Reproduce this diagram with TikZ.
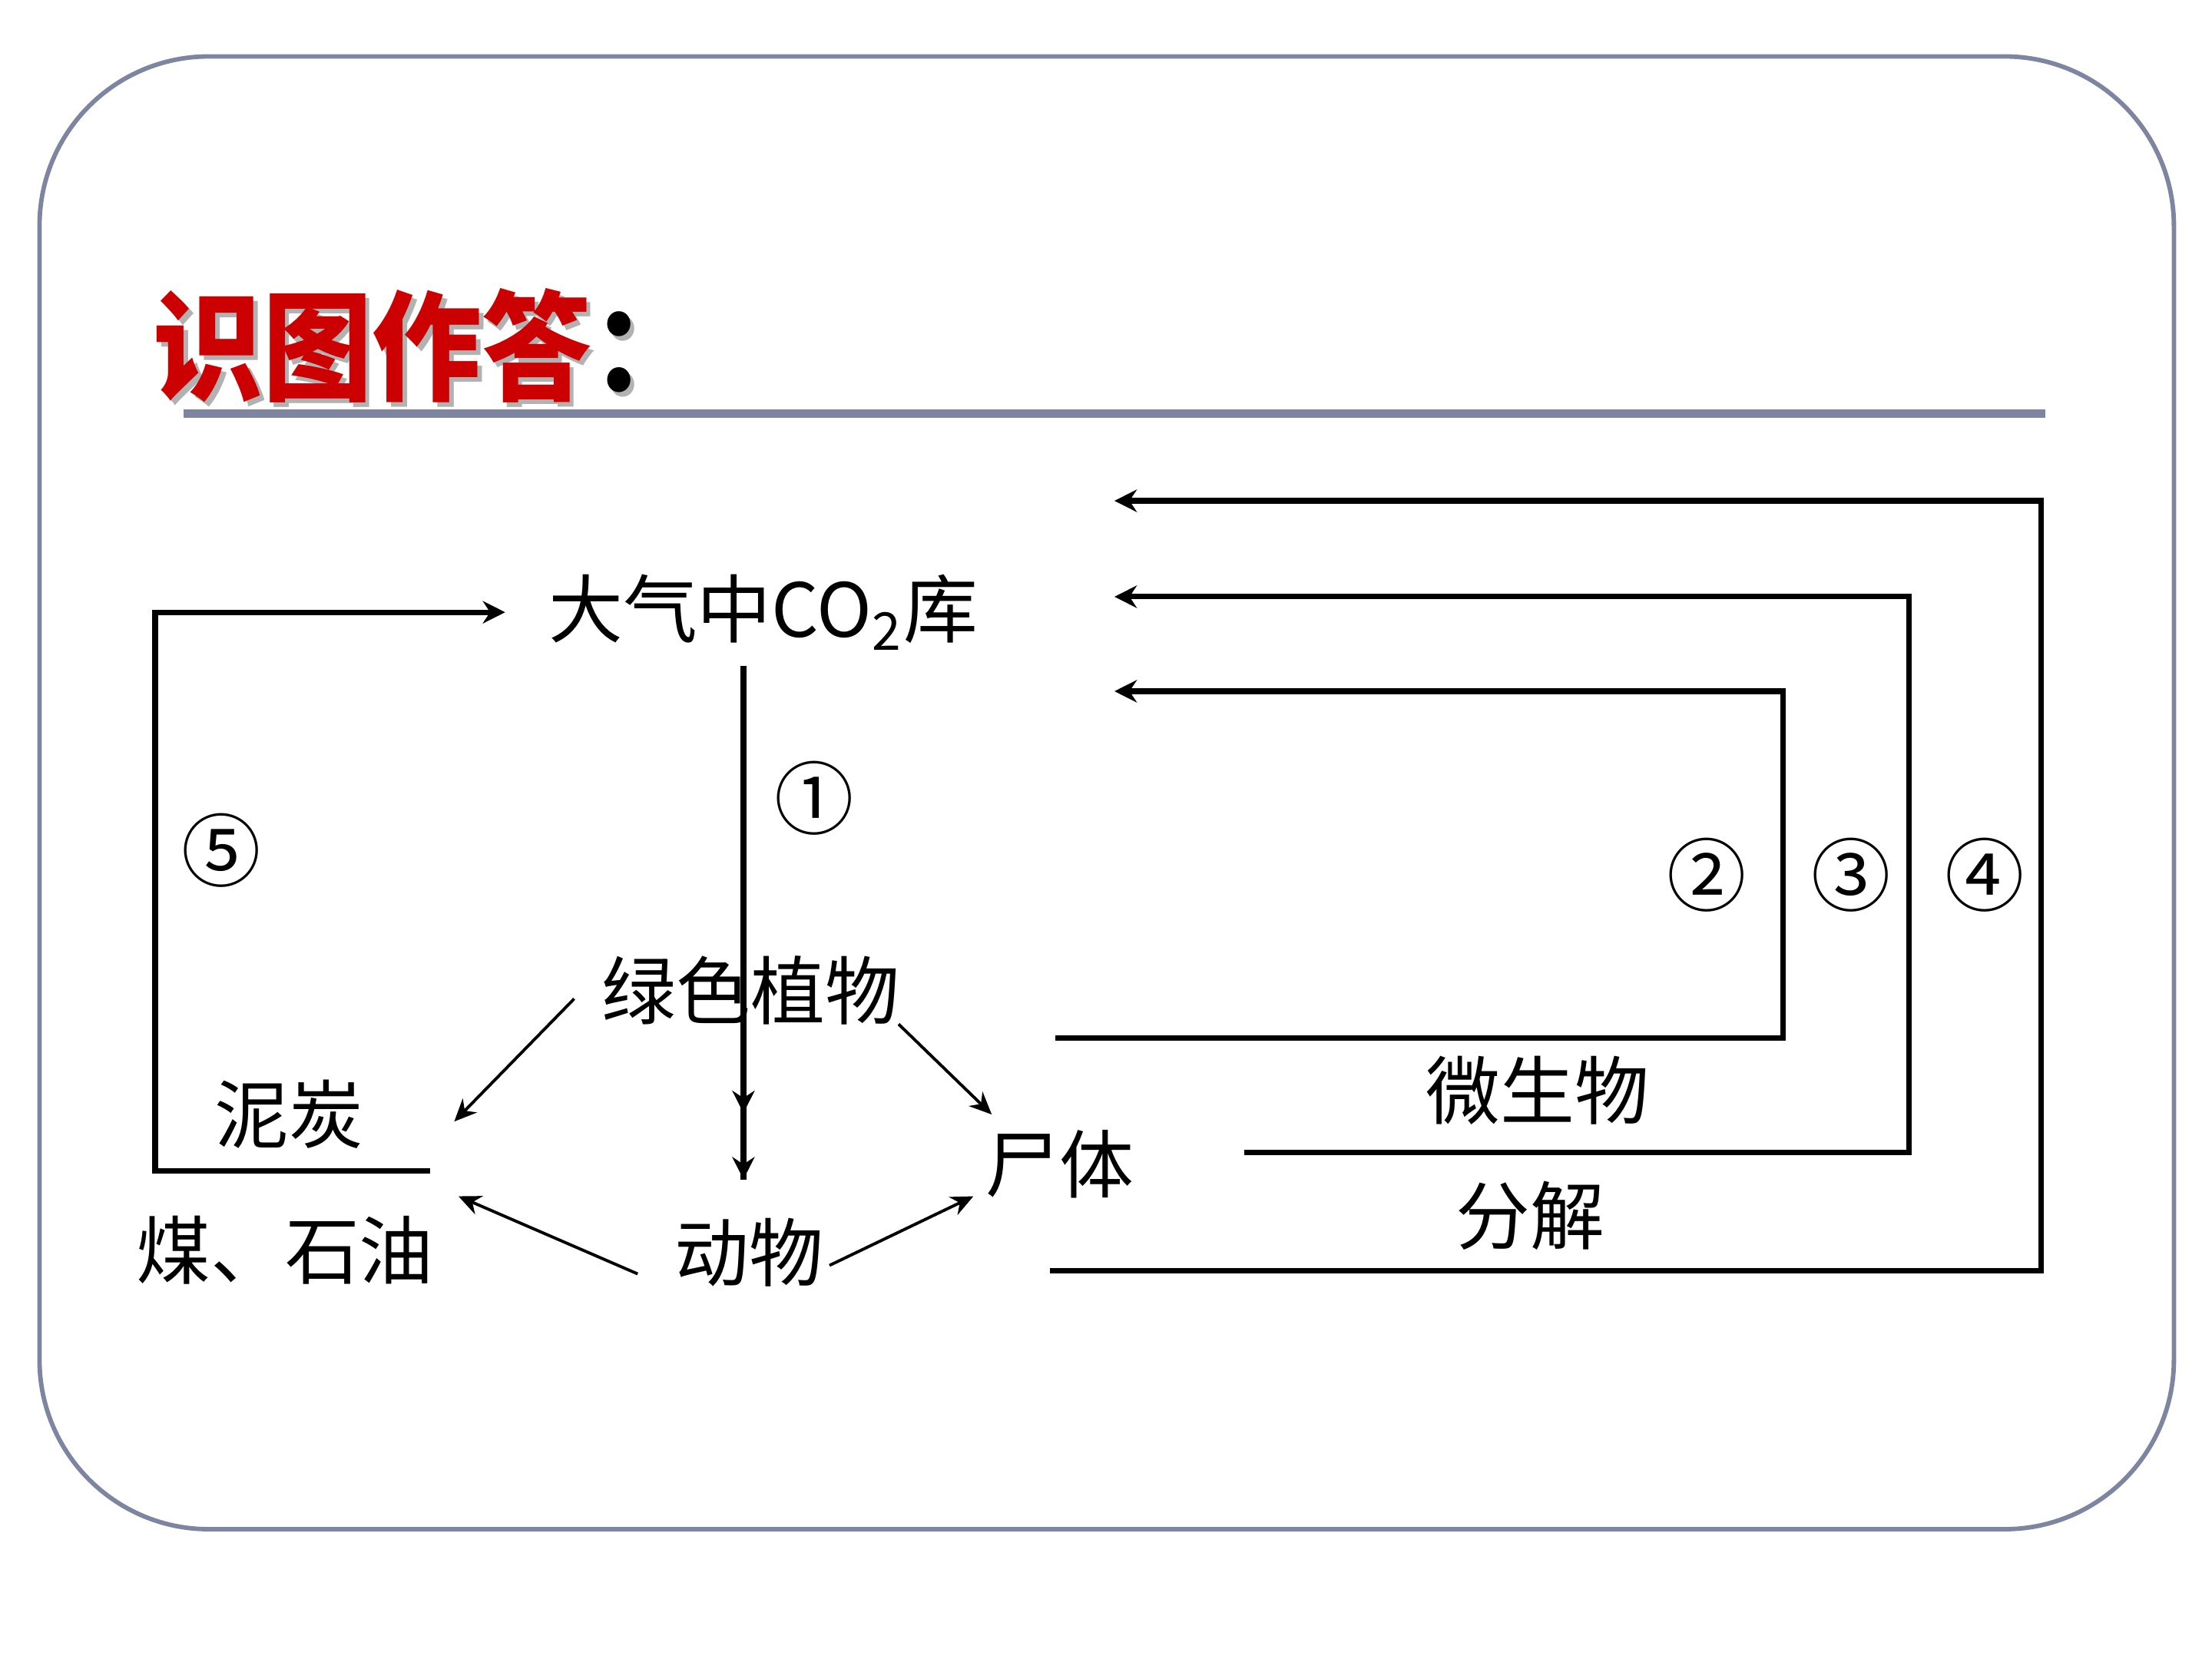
\documentclass[tikz,border=0pt]{standalone}
\usepackage{fontspec}
\newfontfamily\cjk{Noto Sans CJK SC}
\usetikzlibrary{arrows.meta}
\definecolor{framecol}{RGB}{125,133,160}
\definecolor{titlered}{RGB}{204,0,0}
\begin{document}
\begin{tikzpicture}[x=0.01cm,y=-0.01cm,
  lbl/.style={font=\cjk\fontsize{15pt}{15pt}\selectfont, inner sep=0pt, text=black},
  num/.style={font=\cjk\fontsize{16pt}{16pt}\selectfont, inner sep=0pt, text=black},
  ttl/.style={font=\cjk\bfseries\fontsize{24pt}{24pt}\selectfont, inner sep=0pt, anchor=west, xscale=0.92},
  conn/.style={line width=1.1pt, -{Stealth[length=4.5pt,width=4.5pt]}},
  flow/.style={line width=1.1pt},
  thinarr/.style={line width=0.6pt, -{Stealth[length=4.5pt,width=4pt]}},
]
\useasboundingbox (0,0) rectangle (1568,1176);
\fill[white] (0,0) rectangle (1568,1176);
% frame
\draw[framecol, line width=0.9pt, rounded corners=1.2cm] (28,40) rectangle (1541,1084);
% title
\node[ttl, text=gray!60] (titleshadow) at (111,248) {识图作答：};
\node[ttl, text=titlered] (title) at (108,245) {识图作答\textcolor{black}{：}};
\draw[framecol, line width=1.7pt] (130,293) -- (1450,293);

% labels
\node[lbl] (co2) at (541,434) {大气中CO\textsubscript{2}库};
\node[lbl] (plant) at (532,702) {绿色植物};
\node[lbl] (peat) at (205,790) {泥炭};
\node[lbl] (coal) at (202,886) {煤、石油};
\node[lbl] (animal) at (531,888) {动物};
\node[lbl] (corpse) at (751,825) {尸体};
\node[lbl] (microbe) at (1090,773) {微生物};
\node[lbl] (decomp) at (1085,862) {分解};
\node[num] (n1) at (577,566) {①};
\node[num] (n2) at (1210,620) {②};
\node[num] (n3) at (1312,620) {③};
\node[num] (n4) at (1407,620) {④};
\node[num] (n5) at (157,603) {⑤};

% coordinates
\coordinate (p5) at (305,830);
\coordinate (v0) at (527,472);
\coordinate (vm) at (527,789);
\coordinate (v2) at (527,836);
\coordinate (d1s) at (407,708);
\coordinate (d1e) at (322,795);
\coordinate (d2s) at (637,726);
\coordinate (d2e) at (703,790);
\coordinate (d3s) at (452,903);
\coordinate (d3e) at (325,848);
\coordinate (d4s) at (588,897);
\coordinate (d4e) at (690,848);
\coordinate (r2s) at (748,736);
\coordinate (r2c) at (1264,490);
\coordinate (r2e) at (790,490);
\coordinate (r3s) at (882,817);
\coordinate (r3c) at (1353,423);
\coordinate (r3e) at (790,423);
\coordinate (r4s) at (744,901);
\coordinate (r4c) at (1447,355);
\coordinate (r4e) at (790,355);

% loop 5
\draw[conn, shorten >=0.3cm] (p5) -- (110,830) |- (co2.west);
% vertical
\draw[flow] (v0) -- (v2);
\draw[conn] (v0) -- (vm);
\draw[conn] (vm) -- (v2);
% diagonals
\draw[thinarr] (d1s) -- (d1e);
\draw[thinarr] (d2s) -- (d2e);
\draw[thinarr] (d3s) -- (d3e);
\draw[thinarr] (d4s) -- (d4e);
% right loops
\draw[conn] (r2s) -| (r2c) -- (r2e);
\draw[conn] (r3s) -| (r3c) -- (r3e);
\draw[conn] (r4s) -| (r4c) -- (r4e);
\end{tikzpicture}
\end{document}
